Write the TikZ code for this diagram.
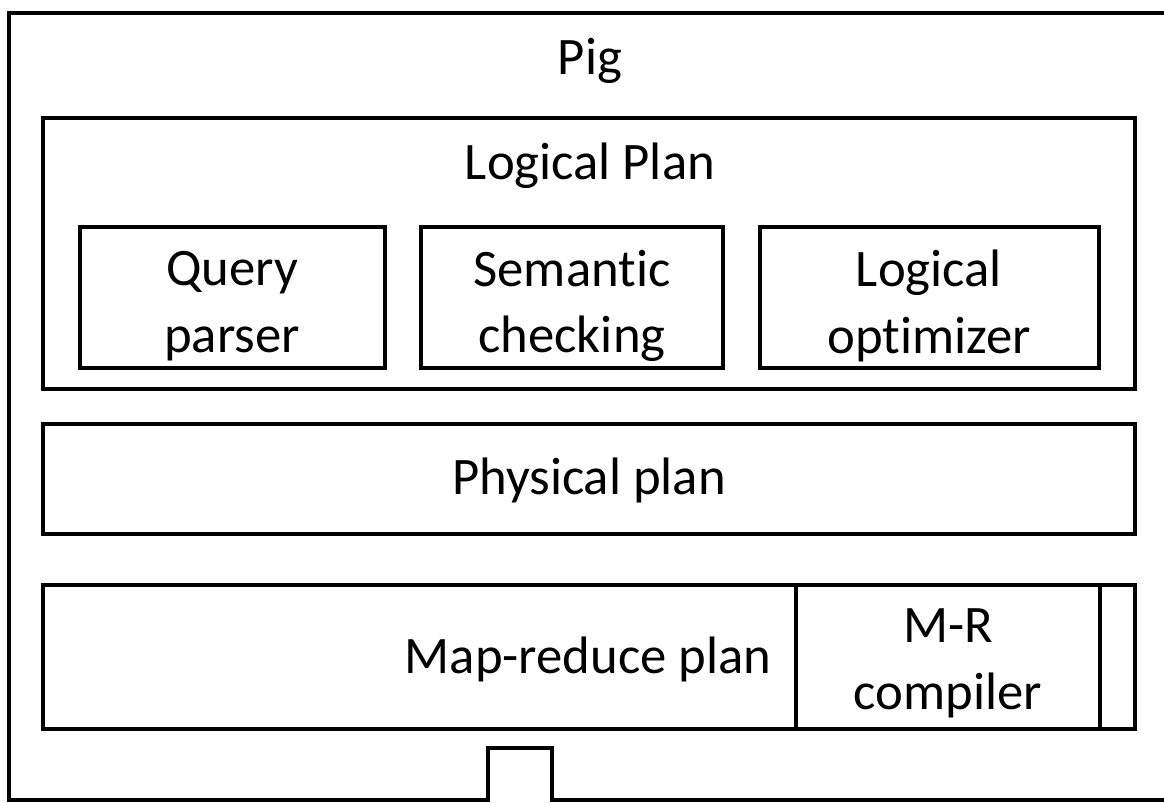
\documentclass[tikz,border=0pt]{standalone}
\usepackage{fontspec}
\setmainfont[Ligatures=NoCommon]{Carlito}
\usetikzlibrary{fit}
\begin{document}
\begin{tikzpicture}[x=0.02cm,y=-0.02cm,
  box/.style={draw=black,line width=2.3pt,inner sep=0pt,rectangle},
  lbl/.style={font=\fontsize{30}{38}\selectfont,align=center,text=black,inner sep=0pt}]
\useasboundingbox (0,0) rectangle (1164,802);
\clip (0,0) rectangle (1164,802);
% outer Pig frame with notch
\coordinate (o1) at (1190,13);
\coordinate (o2) at (1190,800);
\draw[line width=2.3pt,line join=miter] (o1) -- (9,13) -- (9,800) -- (488,800) -- (488,748) -- (552,748) -- (552,800) -- (o2);
\node[lbl] (pig) at (590,61) {Pig};
% logical plan
\node[box,fit={(43,118) (1135,389)}] (logical) {};
\node[lbl] (logicalt) at (590,166) {Logical Plan};
\node[box,fit={(80,227) (385,368)}] (qp) {};
\node[lbl] (qpt) at (232,306) {Query\\parser};
\node[box,fit={(421,227) (723,368)}] (sc) {};
\node[lbl] (sct) at (572,306) {Semantic\\checking};
\node[box,fit={(760,227) (1099,368)}] (lo) {};
\node[lbl] (lot) at (929,306) {Logical\\optimizer};
% physical plan
\node[box,fit={(43,424) (1135,534)}] (phys) {};
\node[lbl] (physt) at (589,480) {Physical plan};
% map-reduce plan
\node[box,fit={(43,585) (1135,729)}] (mr) {};
\node[box,fit={(796,585) (1100,729)}] (mrc) {};
\node[lbl] (mrt) at (588,659) {Map-reduce plan};
\node[lbl] (mrct) at (948,663) {M-R\\compiler};
\end{tikzpicture}
\end{document}
